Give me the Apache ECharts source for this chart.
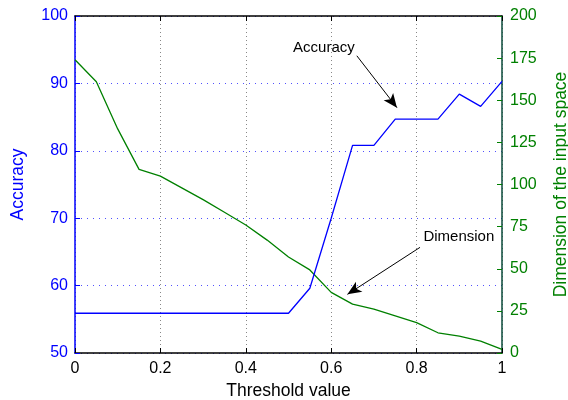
<!DOCTYPE html>
<html>
<head>
<meta charset="utf-8">
<script src="https://cdn.jsdelivr.net/npm/echarts@6/dist/echarts.min.js"></script>
<style>
  html, body { margin: 0; padding: 0; background: #fff; }
  #chart { width: 568px; height: 400px; }
</style>
</head>
<body>
<div id="chart"></div>
<script>
// threshold values on the x axis
const thresholds = [0, 0.05, 0.1, 0.15, 0.2, 0.25, 0.3, 0.35, 0.4, 0.45, 0.5,
                    0.55, 0.6, 0.65, 0.7, 0.75, 0.8, 0.85, 0.9, 0.95, 1];
// left axis: accuracy (%)
const accuracy = [55.9, 55.9, 55.9, 55.9, 55.9, 55.9, 55.9, 55.9, 55.9, 55.9, 55.9,
                  59.6, 70, 80.8, 80.8, 84.7, 84.7, 84.7, 88.4, 86.6, 90.3];
// right axis: dimension of the input space
const dimension = [174, 161, 133, 109, 105, 98, 91, 83.5, 76, 67, 57,
                   49.3, 36, 29, 26, 22, 18, 12, 10, 7, 2.2];

// annotations in data coords: label centre, arrow start, arrow tip
const accuracyNote = { text: 'Accuracy', label: [0.583, 95.3], from: [0.66, 94.1], to: [0.754, 86.4] };
const dimensionNote = { text: 'Dimension', label: [0.899, 68.8], from: [0.808, 62.7], to: [0.638, 34.8] };

const FONT = 'Liberation Sans, Arial, sans-serif';
const BLUE = '#0000ff';
const GREEN = '#008000';

const zip = vals => thresholds.map((t, i) => [t, vals[i]]);

function note(n) {
  return {
    markLine: {
      silent: true,
      animation: false,
      lineStyle: { color: '#000', width: 1, type: 'solid' },
      itemStyle: { color: '#000' },
      label: { show: false },
      data: [[
        { coord: n.from, symbol: 'none' },
        { coord: n.to, symbol: 'arrow', symbolSize: [9, 14] },
      ]],
    },
    markPoint: {
      silent: true,
      animation: false,
      symbol: 'circle',
      symbolSize: 1,
      itemStyle: { color: 'rgba(0,0,0,0)' },
      label: { show: true, position: 'inside', color: '#000', fontSize: 15, fontFamily: FONT, formatter: n.text },
      data: [{ coord: n.label }],
    },
  };
}

const chart = echarts.init(document.getElementById('chart'));

chart.setOption({
  animation: false,
  backgroundColor: '#fff',
  textStyle: { fontFamily: FONT },
  grid: { left: 75, right: 66, top: 16, bottom: 47, outerBoundsMode: 'none', containLabel: false },
  xAxis: [
    {
      type: 'value',
      min: 0, max: 1, interval: 0.2,
      name: 'Threshold value',
      nameLocation: 'middle',
      nameGap: 28,
      nameTextStyle: { color: '#000', fontSize: 17.5, fontFamily: FONT },
      axisLine: { onZero: false, lineStyle: { color: '#000', width: 1.5 } },
      axisTick: { inside: true, length: 5, lineStyle: { color: '#000' } },
      axisLabel: {
        color: '#000', fontSize: 16, fontFamily: FONT, margin: 8,
        formatter: v => String(+v.toFixed(1)),
      },
      splitLine: { show: true, lineStyle: { color: '#888', type: [1, 3], width: 1 } },
    },
    {
      type: 'value',
      position: 'top',
      min: 0, max: 1, interval: 0.2,
      axisLine: { show: true, onZero: false, lineStyle: { color: '#000', width: 1.5 } },
      axisTick: { inside: true, length: 5, lineStyle: { color: '#000' } },
      axisLabel: { show: false },
      splitLine: { show: false },
    },
  ],
  yAxis: [
    {
      type: 'value',
      min: 50, max: 100, interval: 10,
      name: 'Accuracy',
      nameLocation: 'middle',
      nameGap: 48,
      nameTextStyle: { color: BLUE, fontSize: 17.5, fontFamily: FONT },
      axisLine: { show: true, onZero: false, lineStyle: { color: BLUE, width: 1.5 } },
      axisTick: { show: true, inside: true, length: 5, lineStyle: { color: BLUE } },
      axisLabel: { color: BLUE, fontSize: 16, fontFamily: FONT, margin: 7 },
      splitLine: { show: true, lineStyle: { color: '#5050ff', type: [1, 5], width: 1 } },
    },
    {
      type: 'value',
      position: 'right',
      min: 0, max: 200, interval: 25,
      name: 'Dimension of the input space',
      nameLocation: 'middle',
      nameGap: 50,
      nameRotate: 90,
      nameTextStyle: { color: GREEN, fontSize: 17.5, fontFamily: FONT },
      axisLine: { show: true, onZero: false, lineStyle: { color: '#0a4a3a', width: 1.5 } },
      axisTick: { show: true, inside: true, length: 5, lineStyle: { color: GREEN } },
      axisLabel: { color: GREEN, fontSize: 16, fontFamily: FONT, margin: 8 },
      splitLine: { show: false },
    },
  ],
  series: [
    Object.assign({
      name: 'Accuracy',
      type: 'line',
      xAxisIndex: 0,
      yAxisIndex: 0,
      data: zip(accuracy),
      showSymbol: false,
      lineStyle: { color: BLUE, width: 1.3 },
      itemStyle: { color: BLUE },
      z: 3,
    }, note(accuracyNote)),
    Object.assign({
      name: 'Dimension',
      type: 'line',
      xAxisIndex: 0,
      yAxisIndex: 1,
      data: zip(dimension),
      showSymbol: false,
      lineStyle: { color: GREEN, width: 1.3 },
      itemStyle: { color: GREEN },
      z: 2,
    }, note(dimensionNote)),
  ],
});
</script>
</body>
</html>
